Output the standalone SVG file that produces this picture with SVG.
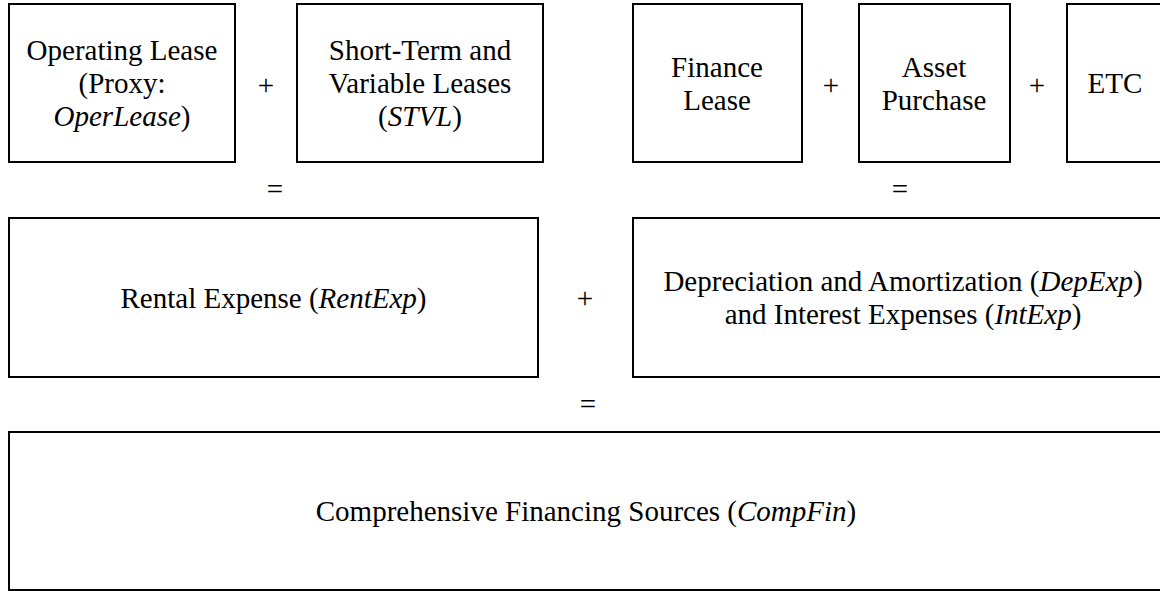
<svg xmlns="http://www.w3.org/2000/svg" width="1160" height="591" viewBox="0 0 1160 591">
<style>
.box{fill:#fff;stroke:#000;stroke-width:2}
.t{font-family:'Times New Roman',Times,Tinos,'Liberation Serif','DejaVu Serif',serif;font-size:29px;fill:#000;text-anchor:middle}
.i{font-style:italic}
.op{font-family:'Times New Roman',Times,'Liberation Serif','DejaVu Serif',serif;font-size:29px;fill:#000;text-anchor:middle}
</style>
<rect width="1160" height="591" fill="#fff"/>
<g id="n-operlease"><rect class="box" x="9" y="4" width="226" height="158"/>
<text class="t" x="122" y="60">Operating Lease</text><text class="t" x="122" y="93">(Proxy:</text><text class="t" x="122" y="126"><tspan class="i">OperLease</tspan>)</text></g>
<g id="n-stvl"><rect class="box" x="297" y="4" width="246" height="158"/>
<text class="t" x="420" y="60">Short-Term and</text><text class="t" x="420" y="93">Variable Leases</text><text class="t" x="420" y="126">(<tspan class="i">STVL</tspan>)</text></g>
<g id="n-finlease"><rect class="box" x="633" y="4" width="169" height="158"/>
<text class="t" x="717" y="76.5">Finance</text><text class="t" x="717" y="109.5">Lease</text></g>
<g id="n-asset"><rect class="box" x="859" y="4" width="151" height="158"/>
<text class="t" x="934" y="76.5">Asset</text><text class="t" x="934" y="109.5">Purchase</text></g>
<g id="n-etc"><rect class="box" x="1067" y="4" width="96" height="158"/>
<text class="t" x="1115" y="93">ETC</text></g>
<g id="n-rentexp"><rect class="box" x="9" y="218" width="529" height="159"/>
<text class="t" x="273.5" y="307.5">Rental Expense (<tspan class="i">RentExp</tspan>)</text></g>
<g id="n-depint"><rect class="box" x="633" y="218" width="540" height="159"/>
<text class="t" x="903" y="291">Depreciation and Amortization (<tspan class="i">DepExp</tspan>)</text><text class="t" x="903" y="324">and Interest Expenses (<tspan class="i">IntExp</tspan>)</text></g>
<g id="n-compfin"><rect class="box" x="9" y="432" width="1154" height="158"/>
<text class="t" x="586" y="521">Comprehensive Financing Sources (<tspan class="i">CompFin</tspan>)</text></g>
<g id="connectors">
<text class="op" x="266" y="95">+</text>
<text class="op" x="831" y="95">+</text>
<text class="op" x="1037" y="95">+</text>
<text class="op" x="275" y="199">=</text>
<text class="op" x="900" y="199">=</text>
<text class="op" x="585" y="308">+</text>
<text class="op" x="588" y="414">=</text>
</g>
</svg>
